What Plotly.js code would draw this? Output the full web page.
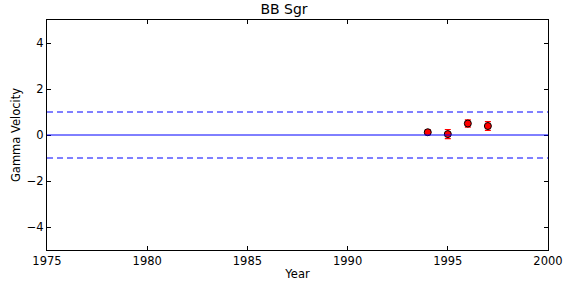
<!DOCTYPE html>
<html><head><meta charset="utf-8">
<script src="https://cdn.plot.ly/plotly-3.0.1.min.js"></script>
<style>body{margin:0;padding:0;background:#fff}#chart{width:568px;height:288px}</style>
</head><body><div id="chart"></div>
<script>
const years = [1994, 1995, 1996, 1997];
const gamma = [0.12, 0.04, 0.50, 0.39];
const errs = [0.10, 0.20, 0.16, 0.19];
const xRange = [1975, 2000];
const xTicks = [1975, 1980, 1985, 1990, 1995, 2000];
const yTicks = [-4, -2, 0, 2, 4];
const refLevels = [0, 1, -1];
const refDash = ['solid', 'dash', 'dash'];

const shapes = refLevels.map((v, i) => ({
  type: 'line', xref: 'paper', x0: 0, x1: 1, yref: 'y', y0: v, y1: v,
  line: {color: '#0000ff', width: 1, dash: refDash[i] === 'dash' ? '6px,4px' : 'solid'}
}));

const data = [{
  x: years, y: gamma, type: 'scatter', mode: 'markers',
  error_y: {type: 'data', array: errs, visible: true, color: 'red', thickness: 1.2, width: 3},
  marker: {color: 'red', size: 7, line: {color: 'black', width: 1}},
  showlegend: false
}];

const layout = {
  width: 568, height: 288,
  margin: {l: 47, r: 20, t: 20, b: 38},
  paper_bgcolor: '#fff', plot_bgcolor: '#fff',
  font: {family: 'DejaVu Sans', size: 11.5, color: '#000'},
  title: {text: 'BB Sgr', font: {size: 14}, x: 0.5, xanchor: 'center', y: 0.985, yanchor: 'top'},
  xaxis: {
    range: xRange, tickvals: xTicks, ticktext: xTicks.map(String),
    ticks: 'inside', ticklen: 4, tickcolor: '#000', showgrid: false, zeroline: false,
    showline: true, linecolor: '#000', linewidth: 1, mirror: 'ticks',
    title: {text: 'Year', font: {size: 11.5}, standoff: 3}
  },
  yaxis: {
    range: [-5, 5], tickvals: yTicks, ticktext: yTicks.map(v => v < 0 ? '\u2212' + Math.abs(v) : String(v)),
    ticks: 'inside', ticklen: 4, tickcolor: '#000', showgrid: false, zeroline: false,
    showline: true, linecolor: '#000', linewidth: 1, mirror: 'ticks',
    title: {text: 'Gamma Velocity', font: {size: 11.5}, standoff: 3}
  },
  shapes: shapes
};

Plotly.newPlot('chart', data, layout, {displayModeBar: false, staticPlot: true});
</script></body></html>
